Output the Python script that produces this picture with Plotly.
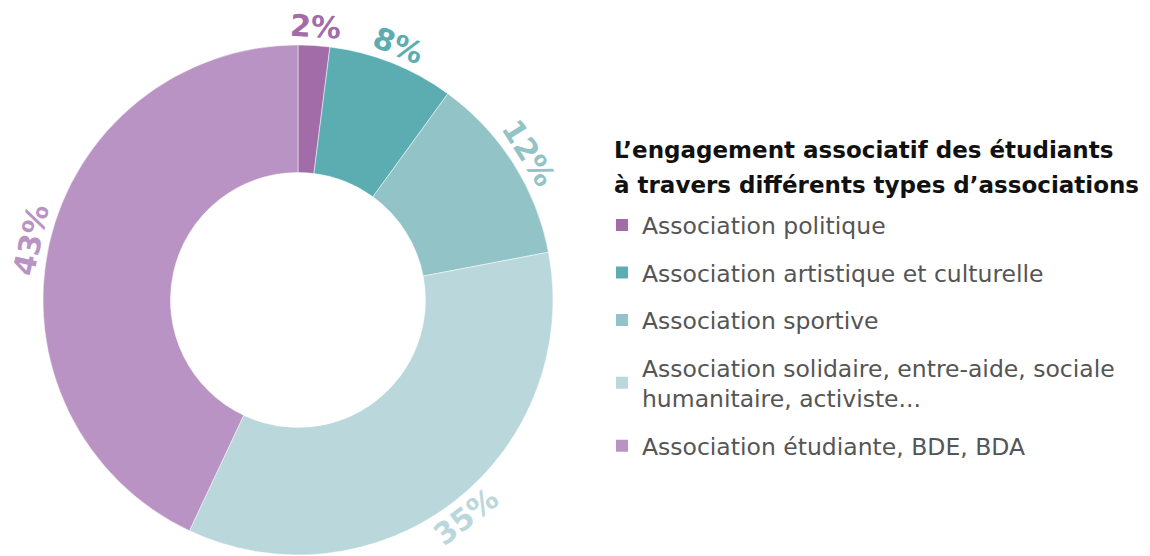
import math
import plotly.graph_objects as go

# Data
labels = ["Association politique",
          "Association artistique et culturelle",
          "Association sportive",
          "Association solidaire, entre-aide, sociale<br>humanitaire, activiste...",
          "Association étudiante, BDE, BDA"]
values = [2, 8, 12, 35, 43]
colors = ["#a26ca9", "#5cadb2", "#92c3c6", "#bad8db", "#b893c3"]
title_lines = ["L’engagement associatif des étudiants",
               "à travers différents types d’associations"]

W, H = 1150, 556
dom_x = [0.0304, 0.4739]
dom_y = [0.0162, 0.9335]

fig = go.Figure()

fig.add_trace(go.Pie(
    labels=labels, values=values, hole=0.5, sort=False,
    direction="clockwise", rotation=0,
    marker=dict(colors=colors, line=dict(color="rgba(255,255,255,0.6)", width=0.8)),
    textinfo="none", hoverinfo="label+percent", showlegend=False,
    domain=dict(x=dom_x, y=dom_y),
))

# percentage labels placed along the outside of the ring, rotated to follow it
cx = (dom_x[0] + dom_x[1]) / 2 * W
cy = (dom_y[0] + dom_y[1]) / 2 * H
r_lab = min((dom_x[1] - dom_x[0]) * W, (dom_y[1] - dom_y[0]) * H) / 2 + 19
total = sum(values)
cum = 0
for v, c in zip(values, colors):
    mid = (cum + v / 2) / total * 360
    cum += v
    a = math.radians(mid)
    ang = mid
    if 90 < ang < 270:
        ang -= 180
    elif ang >= 270:
        ang -= 360
    fig.add_annotation(
        x=(cx + r_lab * math.sin(a)) / W, y=(cy + r_lab * math.cos(a)) / H,
        xref="paper", yref="paper", xanchor="center", yanchor="middle",
        text=f"<b>{v}%</b>", showarrow=False, textangle=ang,
        font=dict(family="DejaVu Sans, sans-serif", size=30, color=c),
    )

# legend title, one line per annotation
for i, t in enumerate(title_lines):
    fig.add_annotation(
        x=0.525, y=0.7446 - i * 0.063, xref="paper", yref="paper",
        xanchor="left", yanchor="middle", showarrow=False,
        text=f"<b>{t}</b>",
        font=dict(family="DejaVu Sans, sans-serif", size=23, color="#111111"),
    )

# legend entries (dummy traces so the gap between items can be set)
for lab, c in zip(labels, colors):
    fig.add_trace(go.Scatter(
        x=[None], y=[None], mode="markers", name=lab, legendgroup=lab,
        marker=dict(symbol="square", size=11, color=c),
    ))

fig.update_layout(
    width=W, height=H,
    margin=dict(l=0, r=0, t=0, b=0),
    paper_bgcolor="white", plot_bgcolor="white",
    xaxis=dict(visible=False), yaxis=dict(visible=False),
    legend=dict(
        x=0.5165, y=0.649, xanchor="left", yanchor="top",
        font=dict(family="DejaVu Sans, sans-serif", size=23.5, color="#555555"),
        traceorder="grouped", tracegroupgap=14, itemsizing="constant",
        bgcolor="rgba(0,0,0,0)",
    ),
)

fig.write_html("out.html")
